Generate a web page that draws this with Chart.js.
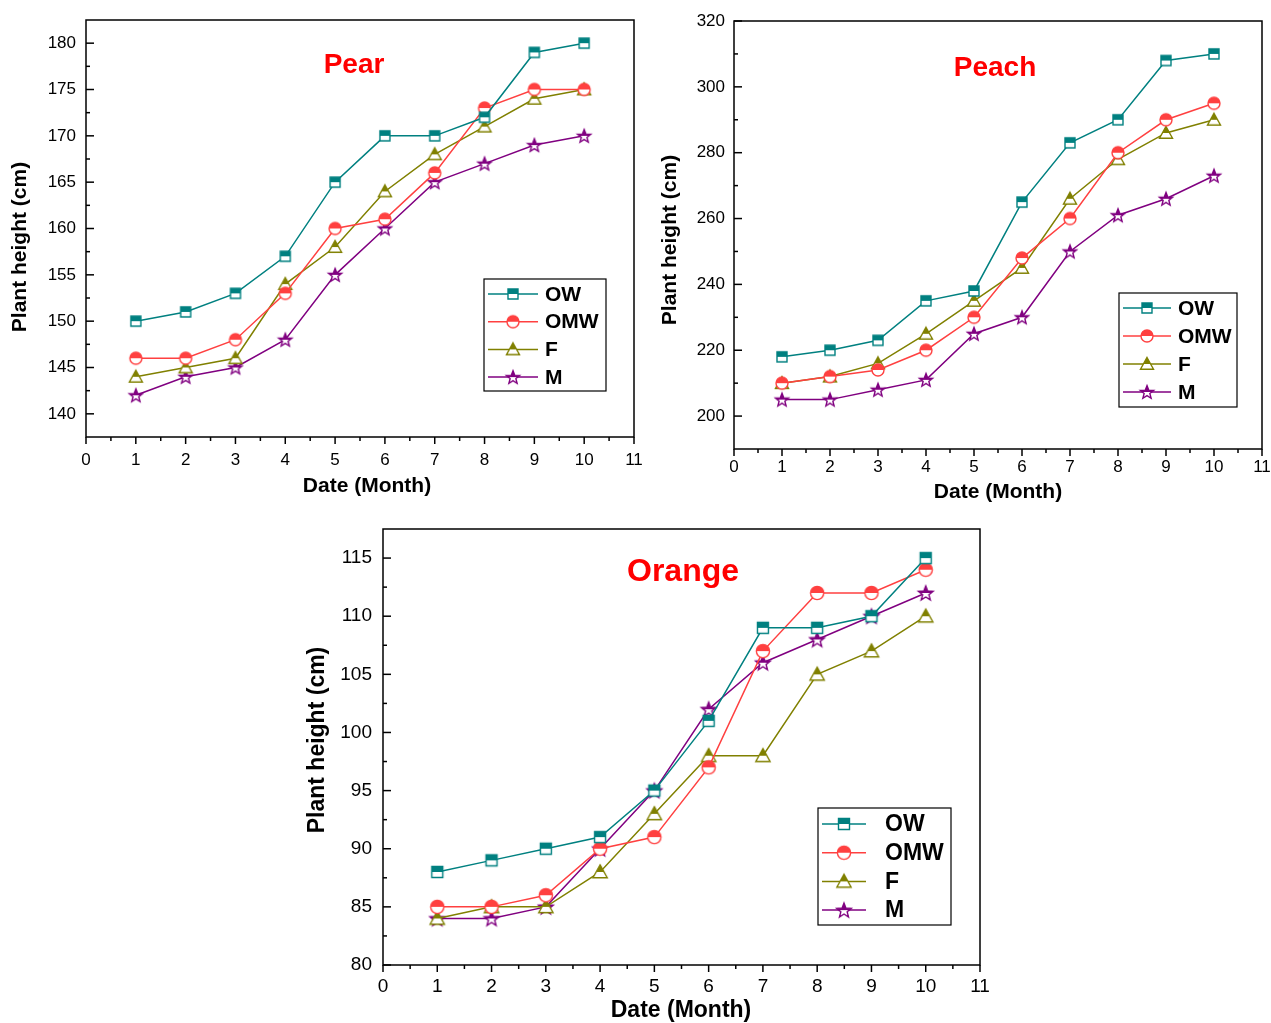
<!DOCTYPE html>
<html>
<head>
<meta charset="utf-8">
<script src="https://cdn.jsdelivr.net/npm/chart.js@4.4.0/dist/chart.umd.min.js"></script>
<style>
  html, body { margin: 0; padding: 0; background: #fff; }
  body { width: 1271px; height: 1023px; position: relative; overflow: hidden; }
  canvas { position: absolute; }
</style>
</head>
<body>
<canvas id="pear" width="645" height="505" style="left:0;top:0"></canvas>
<canvas id="peach" width="621" height="510" style="left:650px;top:0"></canvas>
<canvas id="orange" width="700" height="508" style="left:290px;top:515px"></canvas>
<script>
const months = [1, 2, 3, 4, 5, 6, 7, 8, 9, 10];
const xTicks = [0, 1, 2, 3, 4, 5, 6, 7, 8, 9, 10, 11];
const seriesNames = ["OW", "OMW", "F", "M"];
const seriesColors = ["#008080", "#ff4040", "#808000", "#800080"];
const markerShapes = ["square", "circle", "triangle", "star"];

// Pear
const pearOW  = [150, 151, 153, 157, 165, 170, 170, 172, 179, 180];
const pearOMW = [146, 146, 148, 153, 160, 161, 166, 173, 175, 175];
const pearF   = [144, 145, 146, 154, 158, 164, 168, 171, 174, 175];
const pearM   = [142, 144, 145, 148, 155, 160, 165, 167, 169, 170];
const pearYTicks = [140, 145, 150, 155, 160, 165, 170, 175, 180];

// Peach
const peachOW  = [218, 220, 223, 235, 238, 265, 283, 290, 308, 310];
const peachOMW = [210, 212, 214, 220, 230, 248, 260, 280, 290, 295];
const peachF   = [210, 212, 216, 225, 235, 245, 266, 278, 286, 290];
const peachM   = [205, 205, 208, 211, 225, 230, 250, 261, 266, 273];
const peachYTicks = [200, 220, 240, 260, 280, 300, 320];

// Orange
const orangeOW  = [88, 89, 90, 91, 95, 101, 109, 109, 110, 115];
const orangeOMW = [85, 85, 86, 90, 91, 97, 107, 112, 112, 114];
const orangeF   = [84, 85, 85, 88, 93, 98, 98, 105, 107, 110];
const orangeM   = [84, 84, 85, 90, 95, 102, 106, 108, 110, 112];
const orangeYTicks = [80, 85, 90, 95, 100, 105, 110, 115];

const FONT = "'Liberation Sans', Arial, sans-serif";

// half filled marker: top half coloured, bottom half white
function makeMarker(shape, color, k) {
  const size = Math.round(18 * k);
  const c = document.createElement("canvas");
  c.width = c.height = size;
  const g = c.getContext("2d");
  const m = size / 2;
  const path = () => {
    g.beginPath();
    if (shape === "square") {
      const r = 5 * k;
      g.rect(m - r, m - r, 2 * r, 2 * r);
    } else if (shape === "circle") {
      g.arc(m, m, 6 * k, 0, Math.PI * 2);
    } else if (shape === "triangle") {
      const r = 6.5 * k;
      g.moveTo(m, m - r);
      g.lineTo(m + r, m + r * 0.8);
      g.lineTo(m - r, m + r * 0.8);
      g.closePath();
    } else {
      const ro = 7 * k, ri = 3 * k;
      for (let i = 0; i < 10; i++) {
        const r = i % 2 ? ri : ro;
        const a = -Math.PI / 2 + i * Math.PI / 5;
        g.lineTo(m + r * Math.cos(a), m + r * Math.sin(a) + 0.6 * k);
      }
      g.closePath();
    }
  };
  path();
  g.fillStyle = "#fff";
  g.fill();
  g.save();
  g.beginPath();
  g.rect(0, 0, size, m);
  g.clip();
  path();
  g.fillStyle = color;
  g.fill();
  g.restore();
  path();
  g.strokeStyle = color;
  g.lineWidth = 1.4;
  g.stroke();
  return c;
}

const decor = {
  id: "decor",
  afterDraw(chart, args, o) {
    const ctx = chart.ctx;
    const ca = chart.chartArea;
    const xs = chart.scales.x, ys = chart.scales.y;
    ctx.save();
    ctx.strokeStyle = "#000";
    ctx.lineWidth = 1.5;
    ctx.strokeRect(ca.left, ca.top, ca.right - ca.left, ca.bottom - ca.top);

    const seg = (x1, y1, x2, y2) => { ctx.beginPath(); ctx.moveTo(x1, y1); ctx.lineTo(x2, y2); ctx.stroke(); };
    // y ticks (inward), minor at half step
    const yv = ys.ticks.map(t => t.value);
    const ystep = yv[1] - yv[0];
    yv.forEach(v => seg(ca.left, ys.getPixelForValue(v), ca.left + 8, ys.getPixelForValue(v)));
    [yv[0] - ystep / 2, ...yv.map(v => v + ystep / 2)].forEach(v => {
      if (v > ys.min && v < ys.max) seg(ca.left, ys.getPixelForValue(v), ca.left + 4, ys.getPixelForValue(v));
    });
    // x ticks (outward)
    const xv = xs.ticks.map(t => t.value);
    xv.forEach(v => seg(xs.getPixelForValue(v), ca.bottom, xs.getPixelForValue(v), ca.bottom + 7));
    xv.slice(0, -1).forEach(v => {
      const p = xs.getPixelForValue(v + 0.5);
      seg(p, ca.bottom, p, ca.bottom + 4);
    });

    // axis titles
    ctx.fillStyle = "#000";
    ctx.textAlign = "center";
    ctx.textBaseline = "middle";
    ctx.font = `bold ${o.axisSize}px ${FONT}`;
    ctx.fillText("Date (Month)", o.xTitle[0], o.xTitle[1]);
    ctx.save();
    ctx.translate(o.yTitle[0], o.yTitle[1]);
    ctx.rotate(-Math.PI / 2);
    ctx.fillText("Plant height (cm)", 0, 0);
    ctx.restore();

    // chart title
    ctx.fillStyle = "#ff0000";
    ctx.font = `bold ${o.titleSize}px ${FONT}`;
    ctx.fillText(o.title, o.titlePos[0], o.titlePos[1]);

    // legend
    const L = o.legend;
    ctx.fillStyle = "#fff";
    ctx.fillRect(L.x, L.y, L.w, L.h);
    ctx.strokeStyle = "#000";
    ctx.lineWidth = 1.2;
    ctx.strokeRect(L.x, L.y, L.w, L.h);
    ctx.textAlign = "left";
    ctx.font = `bold ${L.size}px ${FONT}`;
    chart.data.datasets.forEach((ds, i) => {
      const y = L.y + L.first + i * L.row;
      ctx.strokeStyle = ds.borderColor;
      ctx.lineWidth = 1.5;
      seg(L.x + 4, y, L.x + 4 + L.line, y);
      const img = ds.pointStyle;
      ctx.drawImage(img, L.x + 4 + L.line / 2 - img.width / 2, y - img.height / 2);
      ctx.fillStyle = "#000";
      ctx.fillText(ds.label, L.x + L.text, y + 1);
    });
    ctx.restore();
  }
};

function makeChart(id, values, yTicks, o) {
  new Chart(document.getElementById(id), {
    type: "line",
    data: {
      datasets: seriesNames.map((name, i) => ({
        label: name,
        data: months.map((m, j) => ({ x: m, y: values[i][j] })),
        borderColor: seriesColors[i],
        backgroundColor: seriesColors[i],
        borderWidth: 1.5,
        pointStyle: makeMarker(markerShapes[i], seriesColors[i], o.k),
        tension: 0,
      })),
    },
    options: {
      responsive: false,
      animation: false,
      events: [],
      layout: { padding: o.pad },
      plugins: { legend: { display: false }, tooltip: { enabled: false }, decor: o },
      scales: {
        x: {
          type: "linear", min: 0, max: 11,
          afterBuildTicks: s => { s.ticks = xTicks.map(v => ({ value: v })); },
          afterFit: s => { s.height = o.xH; s.paddingLeft = 0; s.paddingRight = 0; },
          grid: { display: false, drawTicks: false },
          border: { display: false },
          ticks: { color: "#000", font: { family: FONT, size: o.tickSize }, padding: o.xPad, autoSkip: false, maxRotation: 0 },
        },
        y: {
          type: "linear", min: o.yMin, max: o.yMax,
          afterBuildTicks: s => { s.ticks = yTicks.map(v => ({ value: v })); },
          afterFit: s => { s.width = o.yW; s.paddingTop = 0; s.paddingBottom = 0; },
          grid: { display: false, drawTicks: false },
          border: { display: false },
          ticks: { color: "#000", font: { family: FONT, size: o.tickSize }, padding: o.yPad },
        },
      },
    },
    plugins: [decor],
  });
}

makeChart("pear", [pearOW, pearOMW, pearF, pearM], pearYTicks, {
  k: 1, yMin: 137.5, yMax: 182.5,
  pad: { left: 0, top: 20, right: 11, bottom: 0 }, xH: 68, yW: 86,
  tickSize: 17, xPad: 13, yPad: 10, axisSize: 21,
  xTitle: [367, 486], yTitle: [20, 247],
  title: "Pear", titleSize: 28, titlePos: [354, 65],
  legend: { x: 484, y: 279, w: 122, h: 112, first: 15, row: 27.7, line: 50, text: 61, size: 21 },
});

makeChart("peach", [peachOW, peachOMW, peachF, peachM], peachYTicks, {
  k: 1, yMin: 190, yMax: 320,
  pad: { left: 0, top: 21, right: 9, bottom: 0 }, xH: 61, yW: 84,
  tickSize: 17, xPad: 8, yPad: 9, axisSize: 21,
  xTitle: [348, 492], yTitle: [20, 240],
  title: "Peach", titleSize: 28, titlePos: [345, 68],
  legend: { x: 469, y: 293, w: 118, h: 114, first: 15, row: 28, line: 48, text: 59, size: 21 },
});

makeChart("orange", [orangeOW, orangeOMW, orangeF, orangeM], orangeYTicks, {
  k: 1.1, yMin: 80, yMax: 117.5,
  pad: { left: 0, top: 14, right: 10, bottom: 0 }, xH: 58, yW: 93,
  tickSize: 19, xPad: 10, yPad: 11, axisSize: 23,
  xTitle: [391, 496], yTitle: [28, 225],
  title: "Orange", titleSize: 32, titlePos: [393, 57],
  legend: { x: 528, y: 293, w: 133, h: 117, first: 16, row: 28.7, line: 44, text: 67, size: 23 },
});
</script>
</body>
</html>
